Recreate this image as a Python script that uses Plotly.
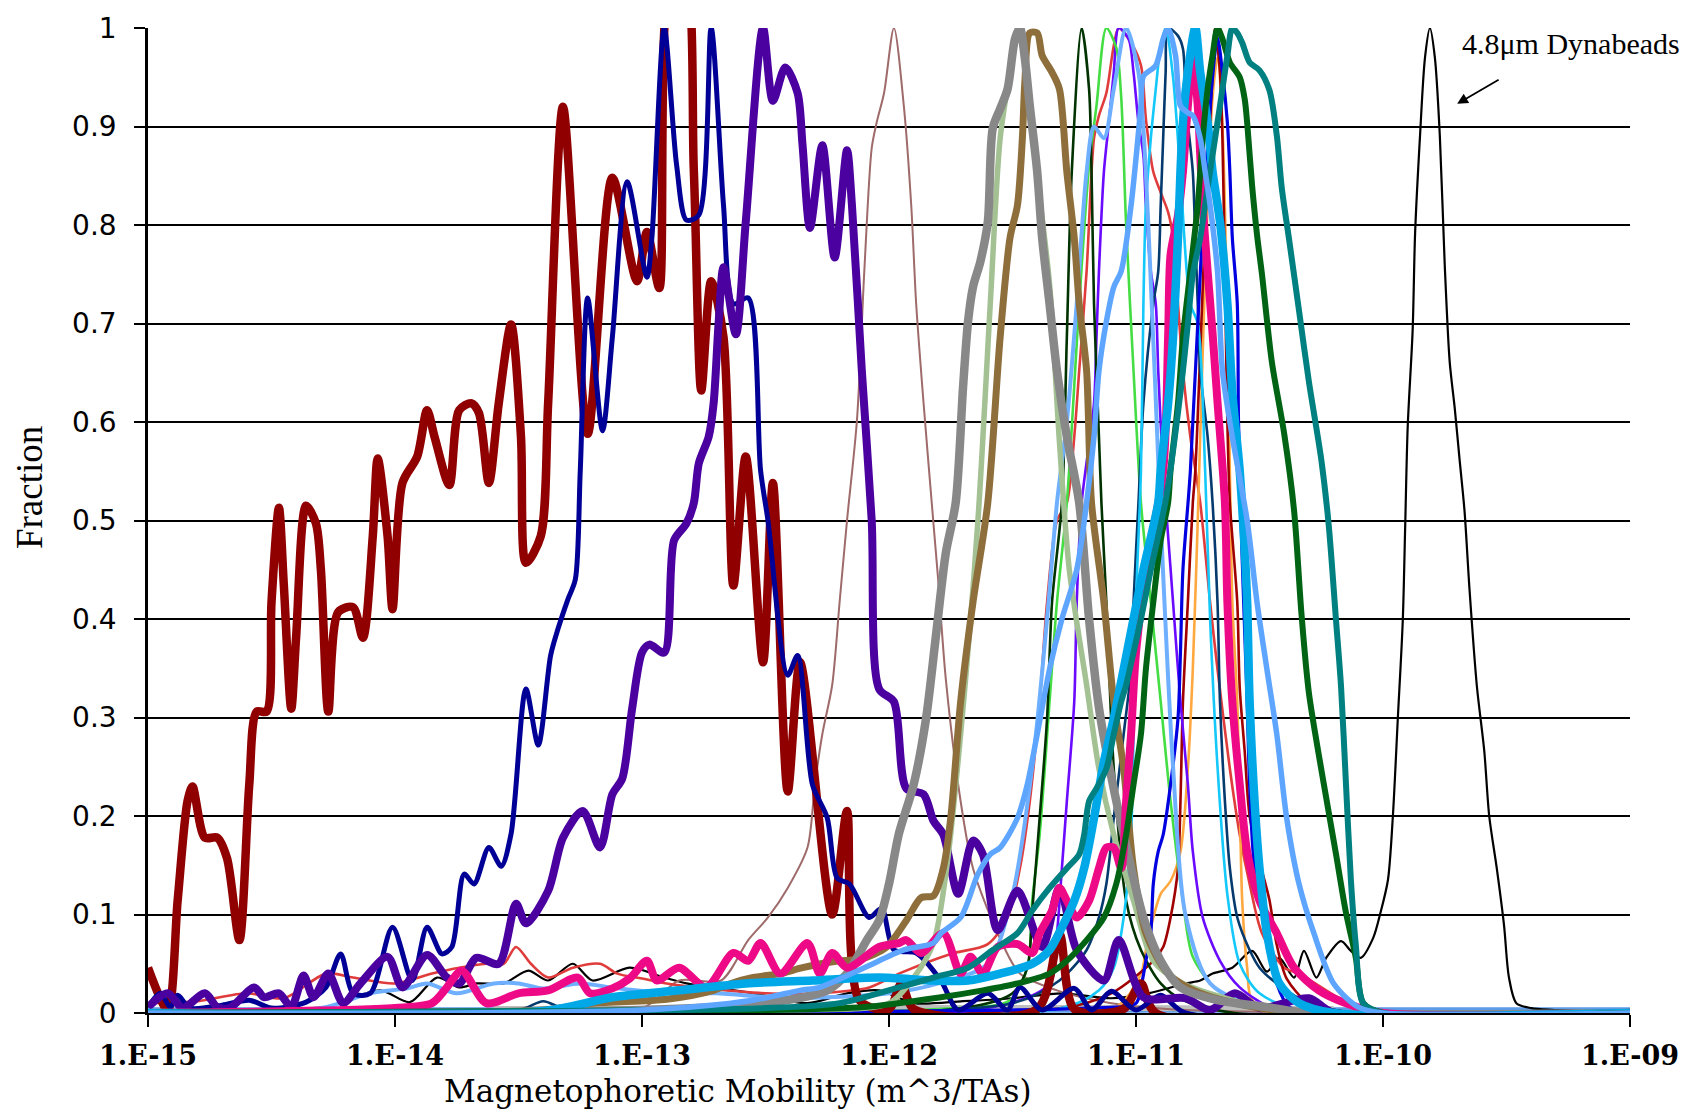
import plotly.graph_objects as go

# ---------------- data: (log10 mobility, fraction) pairs ----------------
maroon = [(-15.0,0.046),(-14.92,0.003),(-14.88,0.114),(-14.84,0.215),(-14.82,0.23),(-14.77,0.178),(-14.72,0.178),(-14.68,0.157),(-14.63,0.074),(-14.59,0.232),(-14.56,0.306),(-14.52,0.306),(-14.50,0.417),(-14.47,0.513),(-14.45,0.434),(-14.42,0.309),(-14.40,0.383),(-14.36,0.515),(-14.32,0.497),(-14.30,0.45),(-14.27,0.306),(-14.23,0.407),(-14.17,0.412),(-14.13,0.381),(-14.09,0.484),(-14.07,0.563),(-14.03,0.484),(-14.01,0.41),(-13.97,0.538),(-13.91,0.565),(-13.87,0.612),(-13.84,0.585),(-13.78,0.536),(-13.74,0.612),(-13.69,0.619),(-13.66,0.609),(-13.62,0.538),(-13.58,0.619),(-13.53,0.699),(-13.49,0.585),(-13.47,0.457),(-13.41,0.484),(-13.38,0.619),(-13.32,0.92),(-13.22,0.588),(-13.12,0.848),(-13.02,0.743),(-12.98,0.793),(-12.93,0.736),(-12.88,1.06),(-12.83,1.06),(-12.79,0.854),(-12.76,0.632),(-12.72,0.743),(-12.67,0.686),(-12.63,0.434),(-12.58,0.565),(-12.51,0.356),(-12.47,0.538),(-12.41,0.225),(-12.36,0.356),(-12.23,0.1),(-12.17,0.205),(-12.12,0.013),(-12.0,0.004),(-11.95,0.03),(-11.9,0.004),(-11.4,0.004),(-11.31,0.08),(-11.25,0.004),(-11.05,0.004),(-10.98,0.03),(-10.92,0.0),(-9.0,0.0)]

navy = [(-15.0,0.006),(-14.95,0.02),(-14.91,0.006),(-14.88,0.018),(-14.83,0.005),(-14.7,0.008),(-14.59,0.013),(-14.5,0.005),(-14.36,0.011),(-14.28,0.026),(-14.22,0.06),(-14.17,0.02),(-14.10,0.02),(-14.01,0.087),(-13.93,0.033),(-13.87,0.087),(-13.81,0.06),(-13.77,0.067),(-13.72,0.141),(-13.68,0.131),(-13.62,0.168),(-13.57,0.149),(-13.53,0.182),(-13.47,0.329),(-13.42,0.272),(-13.37,0.363),(-13.34,0.39),(-13.30,0.42),(-13.27,0.44),(-13.25,0.55),(-13.22,0.726),(-13.16,0.591),(-13.12,0.686),(-13.06,0.844),(-12.98,0.747),(-12.96,0.787),(-12.91,1.0),(-12.86,0.861),(-12.82,0.805),(-12.77,0.81),(-12.72,1.0),(-12.67,0.82),(-12.63,0.72),(-12.57,0.726),(-12.52,0.551),(-12.49,0.5),(-12.41,0.343),(-12.37,0.363),(-12.31,0.232),(-12.25,0.198),(-12.21,0.137),(-12.16,0.131),(-12.08,0.097),(-12.03,0.106),(-11.98,0.064),(-11.89,0.061),(-11.79,0.033),(-11.72,0.003),(-11.6,0.02),(-11.52,0.003),(-11.47,0.026),(-11.38,0.003),(-11.25,0.025),(-11.18,0.003),(-11.1,0.022),(-11.0,0.003),(-10.9,0.018),(-10.8,0.0),(-9.0,0.0)]

indigo = [(-15.0,0.006),(-14.92,0.02),(-14.86,0.005),(-14.77,0.02),(-14.72,0.006),(-14.67,0.005),(-14.57,0.026),(-14.53,0.016),(-14.47,0.02),(-14.42,0.006),(-14.37,0.038),(-14.33,0.016),(-14.27,0.04),(-14.21,0.01),(-14.14,0.03),(-14.03,0.057),(-13.97,0.026),(-13.87,0.059),(-13.79,0.036),(-13.74,0.03),(-13.67,0.056),(-13.58,0.05),(-13.51,0.111),(-13.47,0.091),(-13.38,0.124),(-13.32,0.178),(-13.24,0.205),(-13.17,0.168),(-13.12,0.222),(-13.08,0.238),(-13.04,0.309),(-13.0,0.366),(-12.97,0.374),(-12.91,0.366),(-12.87,0.48),(-12.82,0.497),(-12.79,0.518),(-12.77,0.558),(-12.73,0.585),(-12.71,0.619),(-12.69,0.70),(-12.67,0.757),(-12.62,0.689),(-12.58,0.803),(-12.51,1.0),(-12.47,0.926),(-12.42,0.96),(-12.37,0.934),(-12.35,0.881),(-12.32,0.797),(-12.27,0.881),(-12.22,0.767),(-12.17,0.876),(-12.15,0.82),(-12.11,0.652),(-12.07,0.5),(-12.04,0.329),(-11.98,0.316),(-11.93,0.228),(-11.86,0.222),(-11.82,0.195),(-11.78,0.181),(-11.72,0.121),(-11.66,0.175),(-11.62,0.161),(-11.56,0.084),(-11.48,0.124),(-11.38,0.067),(-11.31,0.127),(-11.24,0.064),(-11.13,0.033),(-11.07,0.074),(-10.97,0.016),(-10.8,0.015),(-10.7,0.003),(-10.6,0.02),(-10.5,0.005),(-10.3,0.015),(-10.2,0.0),(-9.0,0.0)]

rosybrown = [(-15.0,0.003),(-13.0,0.005),(-12.85,0.033),(-12.68,0.033),(-12.57,0.074),(-12.49,0.097),(-12.41,0.127),(-12.33,0.168),(-12.30,0.232),(-12.27,0.283),(-12.23,0.333),(-12.20,0.417),(-12.17,0.5),(-12.13,0.601),(-12.10,0.753),(-12.07,0.878),(-12.05,0.904),(-12.02,0.934),(-11.98,1.0),(-11.94,0.921),(-11.91,0.82),(-11.89,0.72),(-11.86,0.619),(-11.82,0.497),(-11.80,0.437),(-11.77,0.339),(-11.71,0.215),(-11.66,0.147),(-11.56,0.081),(-11.47,0.04),(-11.32,0.023),(-11.1,0.01),(-10.8,0.003),(-9.0,0.0)]

gray = [(-15.0,0.0),(-13.0,0.003),(-12.5,0.01),(-12.25,0.023),(-12.17,0.04),(-12.09,0.074),(-12.04,0.094),(-12.0,0.131),(-11.96,0.182),(-11.90,0.232),(-11.85,0.299),(-11.81,0.383),(-11.77,0.467),(-11.73,0.518),(-11.70,0.636),(-11.68,0.702),(-11.66,0.737),(-11.63,0.763),(-11.60,0.803),(-11.58,0.898),(-11.55,0.918),(-11.52,0.938),(-11.49,0.989),(-11.47,1.0),(-11.45,0.969),(-11.43,0.921),(-11.40,0.854),(-11.38,0.787),(-11.35,0.72),(-11.32,0.652),(-11.28,0.585),(-11.23,0.518),(-11.19,0.40),(-11.15,0.31),(-11.10,0.24),(-11.04,0.17),(-10.97,0.097),(-10.90,0.053),(-10.82,0.026),(-10.67,0.013),(-10.47,0.006),(-10.3,0.0),(-9.0,0.0)]

sage = [(-15.0,0.0),(-12.5,0.003),(-12.0,0.01),(-11.90,0.036),(-11.82,0.071),(-11.77,0.141),(-11.71,0.283),(-11.64,0.5),(-11.59,0.72),(-11.55,0.888),(-11.51,0.955),(-11.48,0.995),(-11.45,0.97),(-11.40,0.85),(-11.35,0.74),(-11.31,0.58),(-11.27,0.45),(-11.20,0.333),(-11.15,0.248),(-11.09,0.181),(-11.01,0.114),(-10.93,0.053),(-10.81,0.03),(-10.61,0.013),(-10.4,0.0),(-9.0,0.0)]

brown = [(-15.0,0.0),(-13.4,0.003),(-13.2,0.01),(-12.9,0.014),(-12.71,0.023),(-12.64,0.03),(-12.55,0.036),(-12.44,0.04),(-12.35,0.046),(-12.20,0.053),(-12.11,0.055),(-12.01,0.067),(-11.93,0.094),(-11.87,0.117),(-11.82,0.119),(-11.78,0.147),(-11.75,0.198),(-11.71,0.316),(-11.66,0.417),(-11.60,0.518),(-11.55,0.686),(-11.51,0.787),(-11.48,0.82),(-11.46,0.888),(-11.45,0.945),(-11.43,0.995),(-11.40,0.995),(-11.38,0.972),(-11.34,0.955),(-11.31,0.938),(-11.28,0.854),(-11.25,0.787),(-11.23,0.72),(-11.20,0.652),(-11.18,0.518),(-11.13,0.417),(-11.09,0.316),(-11.05,0.248),(-11.01,0.147),(-10.96,0.081),(-10.87,0.04),(-10.74,0.02),(-10.5,0.005),(-10.3,0.0),(-9.0,0.0)]

darkgreen_thin = [(-15.0,0.0),(-11.7,0.005),(-11.50,0.02),(-11.44,0.046),(-11.42,0.104),(-11.39,0.198),(-11.36,0.299),(-11.34,0.417),(-11.30,0.518),(-11.28,0.686),(-11.26,0.854),(-11.22,1.0),(-11.19,0.938),(-11.18,0.854),(-11.17,0.72),(-11.15,0.585),(-11.14,0.518),(-11.12,0.417),(-11.09,0.248),(-11.04,0.114),(-10.98,0.064),(-10.90,0.03),(-10.81,0.013),(-10.6,0.0),(-9.0,0.0)]

lightgreen = [(-15.0,0.0),(-11.8,0.004),(-11.51,0.013),(-11.44,0.046),(-11.42,0.114),(-11.39,0.181),(-11.35,0.316),(-11.32,0.417),(-11.28,0.518),(-11.23,0.72),(-11.19,0.86),(-11.16,0.921),(-11.12,1.0),(-11.08,0.98),(-11.06,0.93),(-11.04,0.8),(-11.01,0.652),(-10.98,0.518),(-10.94,0.417),(-10.90,0.316),(-10.86,0.215),(-10.81,0.114),(-10.77,0.057),(-10.67,0.023),(-10.5,0.005),(-10.3,0.0),(-9.0,0.0)]

red_thin = [(-15.0,0.01),(-14.8,0.012),(-14.6,0.02),(-14.45,0.015),(-14.28,0.04),(-14.17,0.036),(-14.0,0.03),(-13.85,0.04),(-13.74,0.046),(-13.63,0.05),(-13.56,0.05),(-13.51,0.067),(-13.45,0.05),(-13.38,0.036),(-13.28,0.046),(-13.17,0.05),(-13.10,0.04),(-13.0,0.035),(-12.9,0.03),(-12.74,0.025),(-12.5,0.02),(-12.3,0.02),(-12.08,0.026),(-11.96,0.04),(-11.75,0.06),(-11.6,0.07),(-11.52,0.097),(-11.47,0.147),(-11.43,0.215),(-11.39,0.316),(-11.36,0.417),(-11.32,0.5),(-11.28,0.518),(-11.25,0.585),(-11.23,0.652),(-11.20,0.753),(-11.17,0.888),(-11.15,0.911),(-11.12,0.934),(-11.09,0.982),(-11.07,1.0),(-11.02,0.985),(-10.98,0.962),(-10.96,0.908),(-10.93,0.854),(-10.90,0.833),(-10.87,0.813),(-10.85,0.787),(-10.83,0.72),(-10.81,0.652),(-10.78,0.585),(-10.74,0.518),(-10.70,0.417),(-10.67,0.349),(-10.62,0.248),(-10.58,0.181),(-10.54,0.131),(-10.49,0.081),(-10.40,0.046),(-10.34,0.04),(-10.23,0.023),(-10.1,0.005),(-9.9,0.0),(-9.0,0.0)]

violet = [(-15.0,0.0),(-11.6,0.005),(-11.35,0.03),(-11.32,0.081),(-11.30,0.147),(-11.28,0.215),(-11.25,0.316),(-11.24,0.417),(-11.22,0.518),(-11.17,0.619),(-11.16,0.686),(-11.15,0.753),(-11.13,0.854),(-11.11,0.904),(-11.09,0.955),(-11.07,1.0),(-11.03,0.989),(-11.01,0.955),(-10.99,0.904),(-10.97,0.871),(-10.96,0.82),(-10.94,0.753),(-10.92,0.72),(-10.91,0.652),(-10.89,0.551),(-10.88,0.518),(-10.85,0.417),(-10.82,0.316),(-10.79,0.232),(-10.77,0.164),(-10.73,0.097),(-10.66,0.053),(-10.58,0.026),(-10.45,0.005),(-10.3,0.0),(-9.0,0.0)]

lightblue_thick = [(-15.0,0.0),(-13.0,0.003),(-12.55,0.013),(-12.36,0.023),(-12.28,0.026),(-12.10,0.046),(-11.94,0.064),(-11.82,0.071),(-11.79,0.081),(-11.71,0.097),(-11.64,0.141),(-11.59,0.161),(-11.55,0.168),(-11.48,0.198),(-11.44,0.232),(-11.40,0.283),(-11.35,0.349),(-11.30,0.4),(-11.24,0.45),(-11.20,0.518),(-11.17,0.585),(-11.15,0.652),(-11.12,0.702),(-11.09,0.737),(-11.06,0.753),(-11.02,0.82),(-10.98,0.921),(-10.97,0.951),(-10.92,0.962),(-10.89,0.989),(-10.87,1.0),(-10.84,0.972),(-10.82,0.921),(-10.79,0.914),(-10.77,0.911),(-10.74,0.888),(-10.72,0.854),(-10.70,0.82),(-10.67,0.753),(-10.65,0.652),(-10.61,0.585),(-10.55,0.5),(-10.51,0.417),(-10.47,0.349),(-10.43,0.283),(-10.39,0.198),(-10.34,0.131),(-10.28,0.081),(-10.20,0.03),(-10.1,0.006),(-10.0,0.0),(-9.0,0.0)]

lightblue_mid = [(-15.0,0.003),(-14.3,0.005),(-14.1,0.02),(-13.95,0.025),(-13.87,0.03),(-13.75,0.02),(-13.6,0.03),(-13.5,0.03),(-13.4,0.025),(-13.25,0.03),(-13.1,0.025),(-12.9,0.02),(-12.7,0.02),(-12.4,0.015),(-12.0,0.02),(-11.8,0.03),(-11.6,0.05),(-11.5,0.12),(-11.42,0.25),(-11.36,0.4),(-11.32,0.518),(-11.28,0.6),(-11.24,0.72),(-11.20,0.854),(-11.17,0.9),(-11.13,0.888),(-11.09,0.938),(-11.04,1.0),(-10.99,0.955),(-10.95,0.8),(-10.90,0.5),(-10.85,0.25),(-10.8,0.1),(-10.7,0.03),(-10.5,0.005),(-10.3,0.0),(-9.0,0.0)]

cyan_thick = [(-15.0,0.0),(-13.4,0.002),(-13.12,0.016),(-12.85,0.023),(-12.58,0.03),(-12.31,0.033),(-12.04,0.036),(-11.82,0.033),(-11.68,0.033),(-11.55,0.04),(-11.42,0.05),(-11.35,0.064),(-11.30,0.087),(-11.25,0.114),(-11.21,0.147),(-11.17,0.198),(-11.13,0.255),(-11.09,0.299),(-11.05,0.349),(-11.01,0.4),(-10.97,0.45),(-10.91,0.518),(-10.90,0.551),(-10.87,0.619),(-10.85,0.686),(-10.83,0.787),(-10.82,0.854),(-10.81,0.904),(-10.79,0.955),(-10.76,1.0),(-10.74,0.955),(-10.71,0.904),(-10.69,0.854),(-10.66,0.803),(-10.63,0.72),(-10.61,0.63),(-10.58,0.55),(-10.56,0.47),(-10.55,0.417),(-10.54,0.316),(-10.52,0.215),(-10.50,0.147),(-10.47,0.081),(-10.42,0.03),(-10.34,0.01),(-10.2,0.0),(-9.0,0.0)]

pink = [(-15.0,0.0),(-14.0,0.005),(-13.85,0.01),(-13.79,0.026),(-13.73,0.043),(-13.63,0.01),(-13.5,0.02),(-13.38,0.023),(-13.26,0.036),(-13.21,0.02),(-13.12,0.025),(-13.05,0.035),(-12.98,0.053),(-12.94,0.033),(-12.85,0.046),(-12.74,0.026),(-12.63,0.061),(-12.57,0.053),(-12.52,0.071),(-12.44,0.04),(-12.33,0.071),(-12.28,0.04),(-12.23,0.061),(-12.17,0.046),(-12.04,0.067),(-11.96,0.071),(-11.93,0.074),(-11.87,0.061),(-11.78,0.081),(-11.71,0.04),(-11.67,0.057),(-11.62,0.04),(-11.56,0.067),(-11.48,0.07),(-11.42,0.061),(-11.39,0.081),(-11.34,0.104),(-11.31,0.127),(-11.28,0.114),(-11.24,0.097),(-11.19,0.114),(-11.15,0.147),(-11.12,0.168),(-11.09,0.168),(-11.06,0.147),(-11.04,0.215),(-11.02,0.283),(-11.0,0.366),(-10.96,0.45),(-10.89,0.55),(-10.87,0.686),(-10.86,0.77),(-10.83,0.81),(-10.81,0.854),(-10.79,0.921),(-10.77,0.97),(-10.75,0.921),(-10.74,0.871),(-10.73,0.82),(-10.71,0.753),(-10.69,0.69),(-10.67,0.62),(-10.64,0.518),(-10.63,0.417),(-10.61,0.316),(-10.58,0.232),(-10.55,0.164),(-10.50,0.114),(-10.43,0.081),(-10.36,0.046),(-10.26,0.023),(-10.15,0.01),(-10.0,0.0),(-9.0,0.0)]

darkgreen_thick = [(-15.0,0.0),(-12.5,0.003),(-12.1,0.006),(-11.79,0.016),(-11.62,0.023),(-11.48,0.03),(-11.35,0.04),(-11.28,0.053),(-11.20,0.074),(-11.13,0.097),(-11.08,0.131),(-11.04,0.181),(-11.01,0.232),(-10.98,0.283),(-10.96,0.349),(-10.93,0.417),(-10.90,0.48),(-10.87,0.518),(-10.86,0.551),(-10.83,0.619),(-10.81,0.686),(-10.78,0.753),(-10.75,0.82),(-10.73,0.888),(-10.71,0.938),(-10.69,0.972),(-10.67,1.0),(-10.65,0.989),(-10.62,0.965),(-10.58,0.95),(-10.56,0.928),(-10.55,0.904),(-10.53,0.84),(-10.51,0.79),(-10.49,0.75),(-10.45,0.661),(-10.40,0.588),(-10.36,0.51),(-10.33,0.405),(-10.30,0.325),(-10.24,0.233),(-10.19,0.161),(-10.15,0.102),(-10.11,0.056),(-10.08,0.01),(-10.0,0.0),(-9.0,0.0)]

teal = [(-15.0,0.0),(-12.5,0.005),(-12.2,0.01),(-11.96,0.026),(-11.82,0.036),(-11.68,0.046),(-11.58,0.064),(-11.48,0.081),(-11.42,0.104),(-11.35,0.127),(-11.28,0.147),(-11.23,0.161),(-11.21,0.181),(-11.19,0.215),(-11.16,0.228),(-11.12,0.248),(-11.09,0.283),(-11.06,0.316),(-11.04,0.333),(-11.01,0.366),(-10.98,0.4),(-10.94,0.45),(-10.88,0.52),(-10.82,0.63),(-10.79,0.70),(-10.77,0.75),(-10.74,0.787),(-10.71,0.838),(-10.69,0.871),(-10.66,0.921),(-10.63,0.972),(-10.61,1.0),(-10.59,0.995),(-10.57,0.985),(-10.54,0.965),(-10.50,0.957),(-10.46,0.937),(-10.43,0.891),(-10.41,0.838),(-10.38,0.785),(-10.34,0.713),(-10.30,0.641),(-10.25,0.562),(-10.22,0.496),(-10.19,0.398),(-10.17,0.332),(-10.15,0.233),(-10.13,0.135),(-10.11,0.069),(-10.08,0.01),(-10.0,0.0),(-9.0,0.0)]

blue = [(-15.0,0.0),(-11.2,0.005),(-11.0,0.01),(-10.98,0.026),(-10.96,0.053),(-10.94,0.081),(-10.93,0.131),(-10.91,0.164),(-10.89,0.181),(-10.86,0.232),(-10.83,0.299),(-10.82,0.366),(-10.81,0.45),(-10.78,0.55),(-10.73,0.8),(-10.69,0.95),(-10.67,0.99),(-10.65,0.955),(-10.63,0.904),(-10.62,0.854),(-10.61,0.787),(-10.59,0.72),(-10.585,0.6),(-10.57,0.46),(-10.55,0.316),(-10.54,0.232),(-10.52,0.147),(-10.47,0.081),(-10.43,0.03),(-10.38,0.006),(-10.3,0.0),(-9.0,0.0)]

darkred_thin = [(-15.0,0.0),(-11.3,0.005),(-11.1,0.02),(-10.93,0.053),(-10.89,0.067),(-10.86,0.097),(-10.83,0.147),(-10.82,0.215),(-10.81,0.316),(-10.79,0.417),(-10.77,0.518),(-10.76,0.55),(-10.74,0.67),(-10.72,0.8),(-10.71,0.854),(-10.70,0.904),(-10.69,0.955),(-10.68,1.0),(-10.66,0.955),(-10.65,0.888),(-10.64,0.75),(-10.63,0.6),(-10.62,0.518),(-10.59,0.417),(-10.58,0.33),(-10.56,0.266),(-10.54,0.2),(-10.50,0.154),(-10.46,0.115),(-10.43,0.069),(-10.39,0.035),(-10.3,0.01),(-10.1,0.0),(-9.0,0.0)]

orange = [(-15.0,0.0),(-11.1,0.003),(-10.98,0.04),(-10.96,0.064),(-10.93,0.097),(-10.90,0.121),(-10.86,0.134),(-10.82,0.164),(-10.79,0.248),(-10.77,0.349),(-10.75,0.5),(-10.72,0.75),(-10.69,0.93),(-10.67,0.97),(-10.65,0.9),(-10.63,0.7),(-10.62,0.55),(-10.61,0.417),(-10.59,0.316),(-10.58,0.215),(-10.57,0.114),(-10.55,0.046),(-10.53,0.013),(-10.4,0.0),(-9.0,0.0)]

navy_thin = [(-15.0,0.0),(-13.5,0.003),(-13.4,0.012),(-13.3,0.003),(-11.5,0.01),(-11.31,0.033),(-11.20,0.064),(-11.15,0.097),(-11.12,0.131),(-11.09,0.198),(-11.05,0.283),(-11.02,0.349),(-11.01,0.417),(-10.99,0.518),(-10.97,0.619),(-10.93,0.72),(-10.91,0.753),(-10.90,0.82),(-10.89,0.888),(-10.88,0.955),(-10.87,1.0),(-10.83,0.992),(-10.81,0.979),(-10.80,0.938),(-10.79,0.904),(-10.77,0.854),(-10.76,0.787),(-10.75,0.72),(-10.74,0.652),(-10.71,0.585),(-10.69,0.518),(-10.67,0.417),(-10.66,0.316),(-10.64,0.215),(-10.62,0.147),(-10.59,0.097),(-10.54,0.064),(-10.50,0.046),(-10.43,0.03),(-10.3,0.01),(-10.1,0.0),(-9.0,0.0)]

cyan_thin = [(-15.0,0.0),(-11.3,0.005),(-11.15,0.023),(-11.09,0.046),(-11.05,0.097),(-11.02,0.181),(-11.01,0.283),(-11.0,0.417),(-10.98,0.55),(-10.97,0.72),(-10.96,0.82),(-10.94,0.888),(-10.92,0.938),(-10.90,0.982),(-10.88,1.0),(-10.85,0.95),(-10.82,0.85),(-10.78,0.72),(-10.75,0.70),(-10.72,0.55),(-10.70,0.4),(-10.67,0.25),(-10.63,0.12),(-10.58,0.05),(-10.5,0.02),(-10.3,0.0),(-9.0,0.0)]

dynabeads = [(-15.0,0.0),(-14.3,0.005),(-14.06,0.023),(-13.94,0.011),(-13.83,0.036),(-13.74,0.026),(-13.67,0.03),(-13.56,0.03),(-13.46,0.043),(-13.38,0.033),(-13.28,0.05),(-13.2,0.033),(-13.05,0.046),(-12.91,0.036),(-12.82,0.03),(-12.71,0.026),(-12.55,0.02),(-12.33,0.01),(-12.17,0.02),(-12.04,0.023),(-11.9,0.01),(-11.7,0.012),(-11.5,0.015),(-11.3,0.02),(-11.1,0.015),(-10.95,0.02),(-10.8,0.03),(-10.74,0.033),(-10.69,0.04),(-10.61,0.046),(-10.53,0.063),(-10.47,0.042),(-10.42,0.056),(-10.36,0.036),(-10.32,0.063),(-10.27,0.036),(-10.23,0.056),(-10.17,0.073),(-10.13,0.063),(-10.09,0.056),(-10.04,0.076),(-10.01,0.102),(-9.98,0.135),(-9.96,0.2),(-9.94,0.299),(-9.92,0.398),(-9.91,0.496),(-9.90,0.595),(-9.88,0.693),(-9.87,0.792),(-9.85,0.891),(-9.83,0.97),(-9.81,1.0),(-9.79,0.97),(-9.77,0.891),(-9.75,0.759),(-9.73,0.661),(-9.71,0.615),(-9.69,0.562),(-9.67,0.51),(-9.65,0.431),(-9.62,0.332),(-9.59,0.266),(-9.57,0.2),(-9.54,0.148),(-9.51,0.089),(-9.49,0.036),(-9.46,0.01),(-9.40,0.005),(-9.2,0.002),(-9.0,0.002)]

baseline_blue = [(-15.0,0.003),(-13.0,0.003),(-11.0,0.003),(-9.0,0.003)]
baseline_gray = [(-13.6,0.004),(-12.0,0.005),(-11.0,0.005),(-10.2,0.004)]

x_tick_exponents = [-15, -14, -13, -12, -11, -10, -9]
x_tick_labels = ["1.E-15", "1.E-14", "1.E-13", "1.E-12", "1.E-11", "1.E-10", "1.E-09"]
y_tick_values = [0, 0.1, 0.2, 0.3, 0.4, 0.5, 0.6, 0.7, 0.8, 0.9, 1]
y_tick_labels = ["0", "0.1", "0.2", "0.3", "0.4", "0.5", "0.6", "0.7", "0.8", "0.9", "1"]

# ---------------- styles (drawing order = list order) ----------------
styles = [
    (baseline_blue, "#5B9BE8", 5.5),
    (baseline_gray, "#BEBEBE", 6),
    (dynabeads, "#000000", 2.2),
    (rosybrown, "#9E6A6A", 2),
    (red_thin, "#E03C3C", 2.6),
    (orange, "#FFA840", 2.6),
    (darkred_thin, "#A00000", 2.6),
    (violet, "#6A0AFF", 2.6),
    (lightgreen, "#44DD44", 2.6),
    (darkgreen_thin, "#003300", 2.6),
    (navy_thin, "#053A6E", 2.6),
    (cyan_thin, "#14C8FA", 2.6),
    (blue, "#0000E0", 3.2),
    (lightblue_mid, "#6EB0FF", 4),
    (maroon, "#900000", 8.5),
    (navy, "#000096", 5),
    (indigo, "#4B00A0", 8),
    (sage, "#A3C193", 5.5),
    (brown, "#8E6F3C", 7),
    (gray, "#888888", 8.5),
    (pink, "#EE0A87", 8),
    (cyan_thick, "#00A8E8", 8.5),
    (darkgreen_thick, "#006414", 6),
    (teal, "#008080", 6),
    (lightblue_thick, "#5DA5FF", 5.5),
]

fig = go.Figure()
for pts, color, width in styles:
    fig.add_trace(go.Scatter(
        x=[10 ** p[0] for p in pts],
        y=[p[1] for p in pts],
        mode="lines",
        line=dict(color=color, width=width, shape="spline", smoothing=0.8),
        hoverinfo="skip",
        showlegend=False,
    ))

fig.update_layout(
    width=1692, height=1113,
    margin=dict(l=148, r=62, t=22, b=100),
    paper_bgcolor="white", plot_bgcolor="white",
    showlegend=False,
    xaxis=dict(
        type="log", range=[-15, -9],
        tickvals=[10 ** e for e in x_tick_exponents],
        ticktext=["<b>%s</b>" % t for t in x_tick_labels],
        tickfont=dict(family="DejaVu Serif", size=27, color="black"),
        ticks="outside", ticklen=12, tickwidth=2, tickcolor="black",
        showgrid=False, zeroline=False,
        showline=True, linecolor="black", linewidth=2,
        ticklabelstandoff=6,
    ),
    yaxis=dict(
        range=[0, 1],
        tickvals=y_tick_values, ticktext=y_tick_labels,
        tickfont=dict(family="DejaVu Sans", size=28, color="black"),
        ticks="outside", ticklen=11, tickwidth=2, tickcolor="black",
        showgrid=True, gridcolor="black", gridwidth=2,
        zeroline=False,
        showline=True, linecolor="black", linewidth=2.5,
        ticklabelstandoff=12,
    ),
    annotations=[
        dict(text="Fraction", xref="paper", yref="paper", x=-0.0796, y=0.533,
             textangle=-90, showarrow=False, xanchor="center", yanchor="middle",
             font=dict(family="Liberation Serif", size=37, color="black")),
        dict(text="Magnetophoretic Mobility (m^3/TAs)", xref="paper", yref="paper",
             x=0.398, y=-0.0795, showarrow=False, xanchor="center", yanchor="middle",
             font=dict(family="DejaVu Serif", size=31, color="black")),
        dict(text="4.8\u03bcm Dynabeads", xref="paper", yref="paper",
             x=0.960, y=0.984, showarrow=False, xanchor="center", yanchor="middle",
             font=dict(family="Liberation Serif", size=30, color="black")),
        dict(text="", x=-9.70, y=0.923, xref="x", yref="y",
             showarrow=True, arrowhead=2, arrowsize=1.2, arrowwidth=1.8,
             arrowcolor="black", ax=43, ay=-25),
    ],
)

fig.write_html("out.html")
